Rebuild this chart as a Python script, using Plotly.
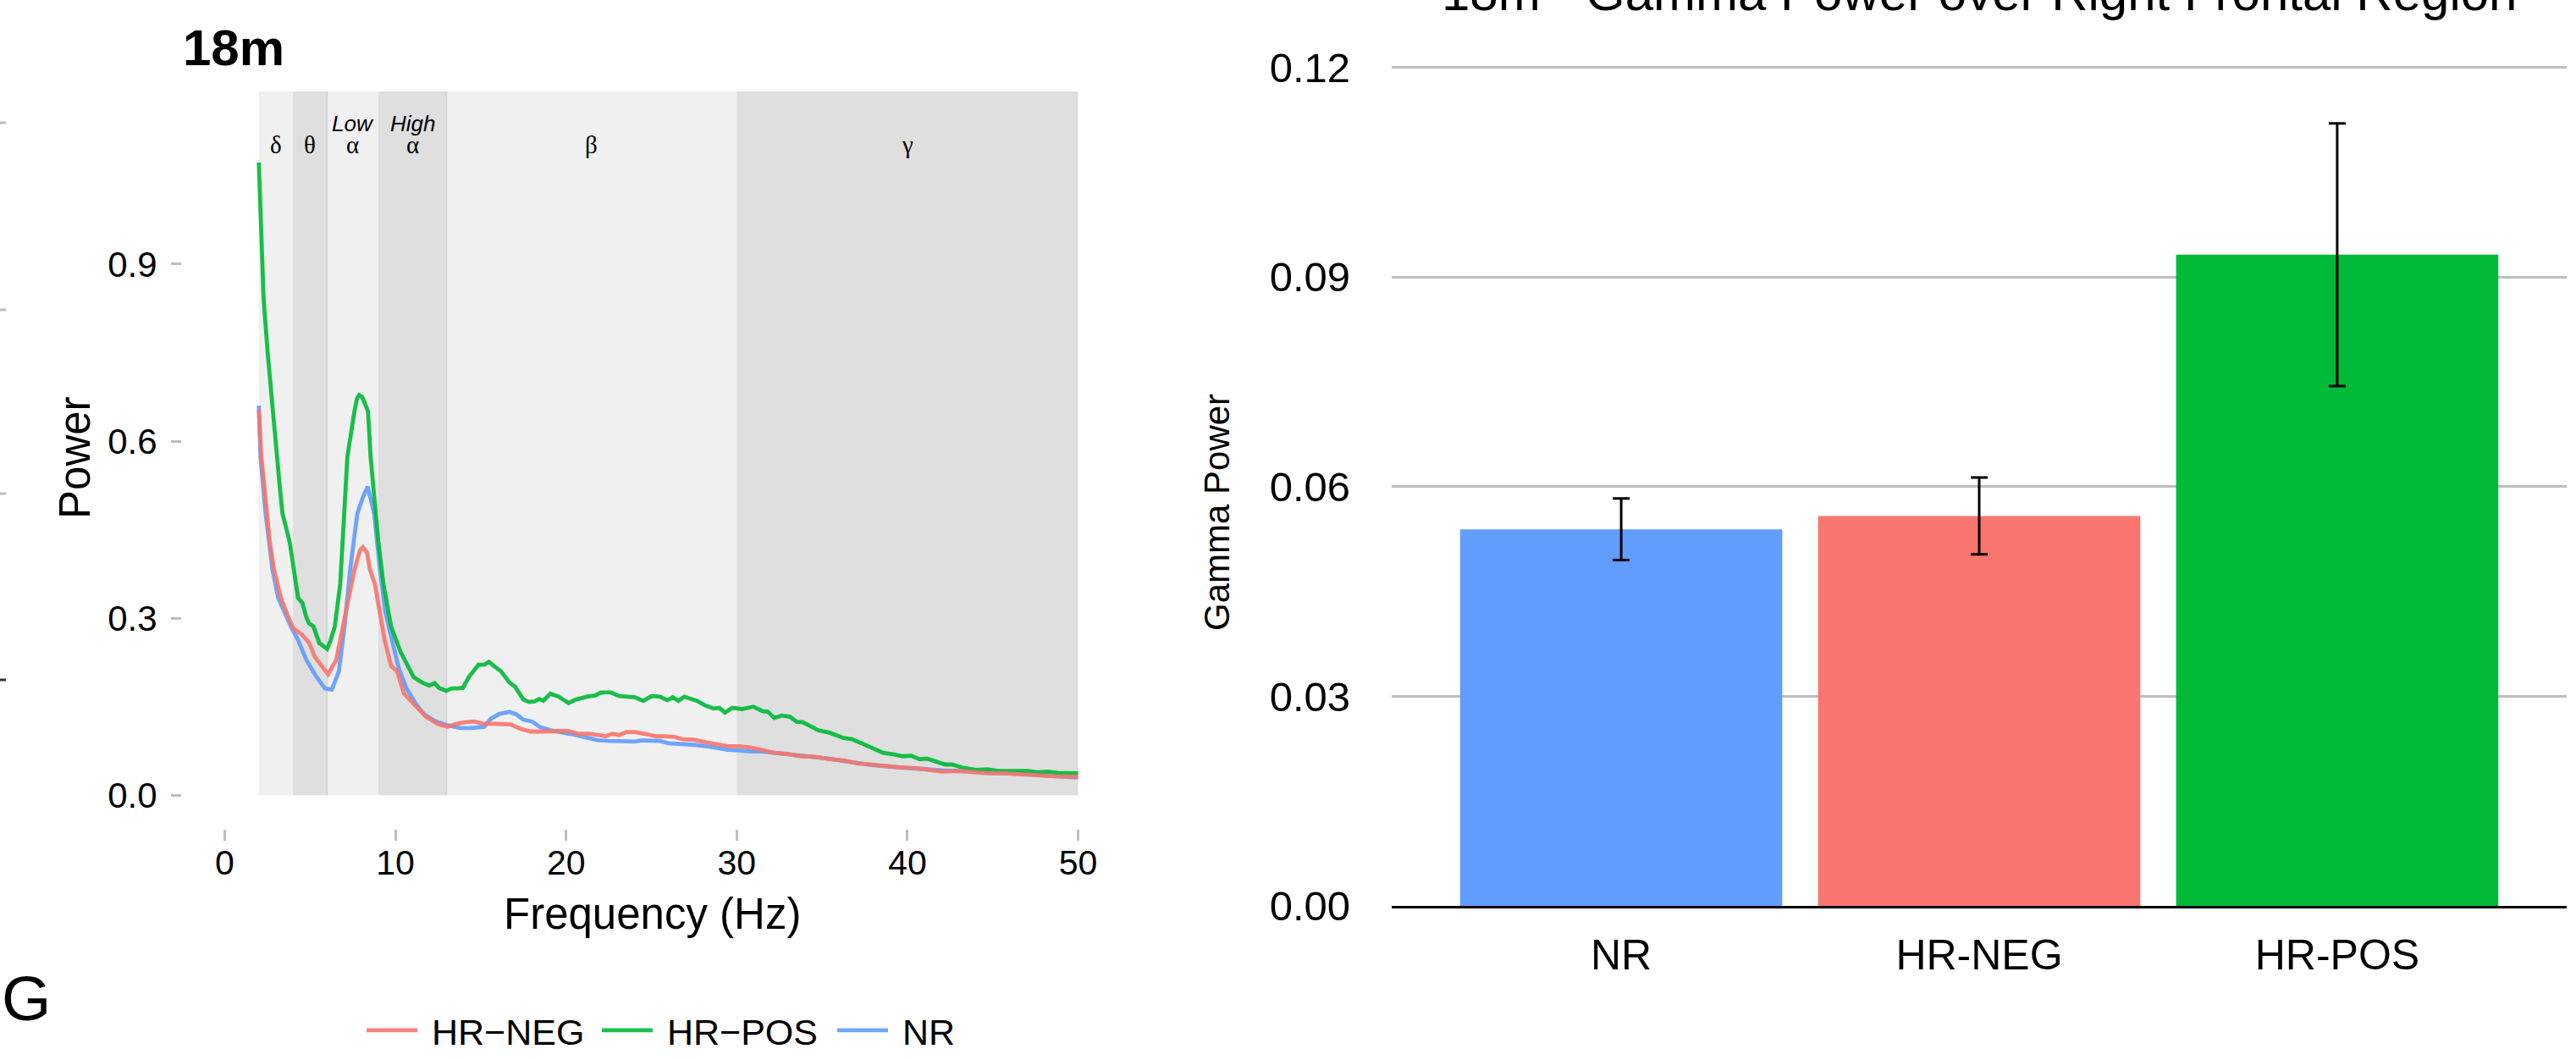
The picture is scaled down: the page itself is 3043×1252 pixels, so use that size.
import plotly.graph_objects as go

# ---------------- data ----------------
# Left panel: power spectra (frequency in Hz, power)
hrpos_freq = [2.0, 2.1, 2.28, 2.53, 2.81, 3.06, 3.22, 3.39, 3.8, 3.93, 4.05, 4.3, 4.55, 4.8, 4.95, 5.2, 5.54, 5.8, 6.0,
              6.2, 6.45, 6.77, 7.02, 7.19, 7.6, 7.75, 7.88, 8.05, 8.2, 8.4, 8.55, 8.76, 9.0, 9.3, 9.75, 10.3, 10.7,
              11.07, 11.56, 11.98, 12.3, 12.55, 12.97, 13.3, 13.63, 13.96, 14.3, 14.6, 14.87, 15.2, 15.48, 15.77,
              16.19, 16.68, 17.01, 17.5, 17.84, 18.17, 18.42, 18.67, 19.08, 19.57, 20.15, 20.56, 21.22, 21.72, 22.05,
              22.63, 23.12, 24.03, 24.52, 25.02, 25.51, 25.93, 26.26, 26.59, 26.92, 27.66, 28.16, 28.65, 28.98, 29.31,
              29.73, 30.31, 30.97, 31.54, 31.8, 32.2, 32.63, 33.12, 33.54, 33.86, 34.28, 34.77, 35.43, 36.26, 36.75,
              37.25, 37.75, 38.16, 38.57, 39.23, 39.72, 40.22, 40.72, 41.13, 41.71, 42.21, 42.62, 43.2, 44.02, 44.68,
              45.34, 45.84, 46.34, 47.0, 47.66, 48.24, 48.82, 49.48, 50.0]
hrpos_power = [1.072, 0.984, 0.841, 0.746, 0.650, 0.573, 0.525, 0.477, 0.430, 0.406, 0.382, 0.334, 0.326, 0.300, 0.291,
               0.286, 0.258, 0.252, 0.248, 0.262, 0.286, 0.358, 0.477, 0.574, 0.650, 0.672, 0.678, 0.675, 0.665, 0.650,
               0.573, 0.501, 0.430, 0.358, 0.286, 0.243, 0.220, 0.200, 0.191, 0.186, 0.190, 0.182, 0.177, 0.181, 0.181,
               0.182, 0.200, 0.210, 0.221, 0.221, 0.226, 0.219, 0.210, 0.191, 0.184, 0.162, 0.158, 0.159, 0.163, 0.160,
               0.172, 0.167, 0.156, 0.162, 0.167, 0.169, 0.174, 0.174, 0.168, 0.166, 0.160, 0.168, 0.167, 0.161, 0.166,
               0.160, 0.167, 0.160, 0.152, 0.147, 0.148, 0.140, 0.148, 0.146, 0.150, 0.142, 0.142, 0.131, 0.135, 0.133,
               0.124, 0.124, 0.117, 0.110, 0.106, 0.097, 0.095, 0.089, 0.082, 0.078, 0.072, 0.069, 0.066, 0.067, 0.061,
               0.062, 0.056, 0.052, 0.052, 0.047, 0.043, 0.044, 0.041, 0.041, 0.040, 0.041, 0.039, 0.040, 0.038, 0.037,
               0.037]

hrneg_freq = [2.0, 2.15, 2.48, 2.64, 2.89, 3.3, 3.68, 4.05, 4.54, 4.95, 5.29, 5.7, 6.06, 6.53, 6.94, 7.27, 7.6, 7.93,
              8.1, 8.34, 8.51, 8.8, 9.1, 9.37, 9.75, 10.1, 10.5, 11.15, 11.8, 12.47, 13.05, 13.6, 14.12, 14.62, 15.12,
              15.77, 16.35, 16.76, 17.26, 17.92, 18.58, 19.24, 20.07, 20.73, 21.39, 21.88, 22.3, 22.71, 23.12, 23.53,
              24.03, 24.6, 25.26, 25.76, 26.34, 26.83, 27.49, 28.16, 28.81, 29.48, 30.14, 30.8, 31.47, 32.14, 32.96,
              33.79, 34.61, 35.43, 36.26, 37.08, 37.91, 38.73, 39.56, 40.39, 41.21, 42.04, 43.03, 44.02, 44.68, 45.67,
              46.67, 47.66, 48.65, 50.0]
hrneg_power = [0.654, 0.573, 0.477, 0.430, 0.382, 0.334, 0.305, 0.282, 0.272, 0.258, 0.234, 0.219, 0.205, 0.229, 0.286,
               0.339, 0.382, 0.415, 0.420, 0.411, 0.382, 0.358, 0.310, 0.263, 0.219, 0.210, 0.172, 0.152, 0.133, 0.121,
               0.116, 0.121, 0.124, 0.125, 0.121, 0.121, 0.120, 0.120, 0.113, 0.108, 0.108, 0.109, 0.109, 0.104, 0.104,
               0.102, 0.100, 0.104, 0.102, 0.107, 0.107, 0.104, 0.100, 0.100, 0.099, 0.095, 0.094, 0.090, 0.087, 0.083,
               0.083, 0.081, 0.077, 0.072, 0.070, 0.066, 0.065, 0.061, 0.059, 0.054, 0.052, 0.049, 0.047, 0.046, 0.043,
               0.040, 0.041, 0.039, 0.037, 0.037, 0.035, 0.033, 0.032, 0.031]

nr_freq = [2.0, 2.1, 2.4, 2.8, 3.14, 3.88, 4.3, 4.79, 5.37, 5.87, 6.28, 6.69, 7.02, 7.35, 7.77, 8.1, 8.38, 8.76, 9.1,
           9.42, 9.8, 10.2, 10.65, 11.15, 11.65, 12.3, 12.97, 13.8, 14.45, 15.2, 15.61, 16.1, 16.68, 17.09, 17.5, 18.0,
           18.5, 19.24, 20.23, 21.05, 21.88, 22.54, 23.37, 24.03, 24.44, 25.02, 25.51, 26.0, 26.83, 27.66, 28.48, 29.48,
           30.14, 30.8, 31.47, 32.14, 32.96, 33.79, 34.61, 35.43, 36.26, 37.08, 37.91, 38.73, 39.56, 40.39, 41.21, 42.04,
           43.03, 44.02, 45.01, 46.0, 47.0, 47.99, 48.98, 50.0]
nr_power = [0.660, 0.573, 0.477, 0.382, 0.334, 0.286, 0.263, 0.229, 0.201, 0.181, 0.179, 0.210, 0.286, 0.382, 0.477,
            0.505, 0.523, 0.477, 0.382, 0.310, 0.263, 0.215, 0.181, 0.157, 0.138, 0.126, 0.119, 0.114, 0.114, 0.116,
            0.130, 0.138, 0.141, 0.137, 0.128, 0.125, 0.115, 0.109, 0.104, 0.099, 0.093, 0.092, 0.092, 0.091, 0.093,
            0.092, 0.092, 0.088, 0.087, 0.085, 0.082, 0.077, 0.076, 0.074, 0.074, 0.072, 0.071, 0.067, 0.066, 0.062,
            0.058, 0.054, 0.051, 0.049, 0.047, 0.046, 0.044, 0.042, 0.041, 0.039, 0.038, 0.037, 0.035, 0.033, 0.031,
            0.030]

# Frequency bands
band_start = [2, 4, 6, 9, 13, 30]
band_end = [4, 6, 9, 13, 30, 50]
band_symbol = ["δ", "θ", "α", "α", "β", "γ"]
band_prefix = ["", "", "Low", "High", "", ""]

# Right panel: gamma power bars
groups = ["NR", "HR-NEG", "HR-POS"]
gamma_mean = [0.0539, 0.0558, 0.0932]
gamma_err = [0.0044, 0.0055, 0.0188]

# Ticks
freq_ticks = [0, 10, 20, 30, 40, 50]
power_ticks = [0.0, 0.3, 0.6, 0.9]
gamma_ticks = [0.00, 0.03, 0.06, 0.09, 0.12]

# ---------------- styling ----------------
W, H = 3043, 1252
COL = {"HR-NEG": "#F8766D", "HR-POS": "#00BA38", "NR": "#619CFF"}
FONT = "Liberation Sans, Arial, Helvetica, sans-serif"
SERIF = "Liberation Serif, Times New Roman, serif"
LEFT_Y_TOP = 1.1925

def px_x(p):
    return p / W

def px_y(p):
    return 1 - p / H

fig = go.Figure()

# band rectangles
for i, (s, e) in enumerate(zip(band_start, band_end)):
    fig.add_shape(type="rect", xref="x", yref="y", x0=s, x1=e, y0=0, y1=LEFT_Y_TOP,
                  fillcolor="#F0F0F0" if i % 2 == 0 else "#DFDFDF", line_width=0, layer="below")
for b in [6, 13]:
    fig.add_shape(type="line", xref="x", yref="y", x0=b, x1=b, y0=0, y1=LEFT_Y_TOP,
                  line=dict(color="#D3D3D3", width=1.5), layer="below")

# band labels
for s, e, sym, pre in zip(band_start, band_end, band_symbol, band_prefix):
    c = (s + e) / 2
    fig.add_annotation(x=c, y=1.102, xref="x", yref="y", text=sym, showarrow=False,
                       font=dict(family=SERIF, size=29, color="black"), yanchor="middle")
    if pre:
        fig.add_annotation(x=c, y=1.138, xref="x", yref="y", text="<i>" + pre + "</i>", showarrow=False,
                           font=dict(family=FONT, size=26, color="black"), yanchor="middle")

# spectra (draw order NR, HR-POS, HR-NEG; legend order HR-NEG, HR-POS, NR)
series = [("NR", nr_freq, nr_power, 3), ("HR-POS", hrpos_freq, hrpos_power, 2), ("HR-NEG", hrneg_freq, hrneg_power, 1)]
for name, fx, fy, rank in series:
    fig.add_trace(go.Scatter(x=fx, y=fy, mode="lines", name="\u00a0" + name.replace("-", "\u2212"),
                             line=dict(color=COL[name], width=4.8), opacity=0.9,
                             legendrank=rank, xaxis="x", yaxis="y"))

# bars
fig.add_trace(go.Bar(x=groups, y=gamma_mean, width=0.9,
                     marker=dict(color=[COL[g] for g in groups], line_width=0),
                     error_y=dict(type="data", array=gamma_err, color="black", thickness=3, width=10),
                     showlegend=False, xaxis="x2", yaxis="y2"))

tick_grey = "#BDBDBD"
fig.update_layout(
    width=W, height=H,
    margin=dict(l=0, r=0, t=0, b=0, pad=0, autoexpand=False),
    paper_bgcolor="white", plot_bgcolor="rgba(0,0,0,0)",
    font=dict(family=FONT, color="black"),
    showlegend=True,
    legend=dict(orientation="h", x=px_x(428), y=px_y(1217), xanchor="left", yanchor="middle",
                font=dict(size=43, family=FONT), itemwidth=60, entrywidth=203, entrywidthmode="pixels",
                traceorder="normal", bgcolor="rgba(0,0,0,0)"),
    xaxis=dict(domain=[px_x(215), px_x(1324)], range=[-2.5, 52.5], tickvals=freq_ticks,
               showgrid=False, zeroline=False, showline=False, ticks="outside", ticklen=13,
               tickwidth=2.5, tickcolor=tick_grey, tickfont=dict(size=41), ticklabelstandoff=-9),
    yaxis=dict(domain=[px_y(979), px_y(108)], range=[-0.057, LEFT_Y_TOP], tickvals=power_ticks,
               tickformat=".1f", showgrid=False, zeroline=False, showline=False, ticks="outside",
               ticklen=12, tickwidth=2.5, tickcolor=tick_grey, tickfont=dict(size=42), ticklabelstandoff=8),
    xaxis2=dict(domain=[px_x(1644), px_x(3032)], range=[-0.641, 2.641], anchor="y2", type="category",
                categoryorder="array", categoryarray=groups, showgrid=False, zeroline=False,
                showline=True, linecolor="black", linewidth=3, ticks="", tickfont=dict(size=50),
                ticklabelstandoff=12),
    yaxis2=dict(domain=[px_y(1070), px_y(59)], range=[0, 0.1225], anchor="x2", tickvals=gamma_ticks,
                tickformat=".2f", showgrid=True, gridcolor="#BEBEBE", gridwidth=3, zeroline=False,
                showline=False, ticks="", tickfont=dict(size=49), ticklabelstandoff=48),
)

# titles and labels
fig.add_annotation(x=px_x(214), y=px_y(56), xref="paper", yref="paper", text="<b>18m</b>", showarrow=False,
                   xanchor="left", yanchor="middle", font=dict(size=60, family=FONT))
fig.add_annotation(x=px_x(2338), y=px_y(-8), xref="paper", yref="paper",
                   text="18m - Gamma Power over Right Frontal Region", showarrow=False,
                   xanchor="center", yanchor="middle", font=dict(size=60, family=FONT))
fig.add_annotation(x=px_x(88), y=px_y(541), xref="paper", yref="paper", text="Power", textangle=-90,
                   showarrow=False, xanchor="center", yanchor="middle", font=dict(size=51, family=FONT))
fig.add_annotation(x=px_x(770), y=px_y(1079), xref="paper", yref="paper", text="Frequency (Hz)",
                   showarrow=False, xanchor="center", yanchor="middle", font=dict(size=51, family=FONT))
fig.add_annotation(x=px_x(1437), y=px_y(605), xref="paper", yref="paper", text="Gamma Power", textangle=-90,
                   showarrow=False, xanchor="center", yanchor="middle", font=dict(size=42, family=FONT))
fig.add_annotation(x=0, y=px_y(1179), xref="paper", yref="paper", text="G", showarrow=False,
                   xanchor="left", yanchor="middle", font=dict(size=75, family=FONT))

# stray tick marks of the neighbouring (cropped) panel at the far left edge
for yy, cc in [(145, "#BBBBBB"), (366, "#BBBBBB"), (583, "#BBBBBB"), (803, "#333333")]:
    fig.add_shape(type="line", xref="paper", yref="paper", x0=0, x1=px_x(7), y0=px_y(yy), y1=px_y(yy),
                  line=dict(color=cc, width=3))

# remove the browser's default 8px body margin so the figure sits at the page origin
fig.write_html("out.html", config={"displayModeBar": False},
               post_script="document.body.style.margin='0';document.body.style.overflow='hidden';")
